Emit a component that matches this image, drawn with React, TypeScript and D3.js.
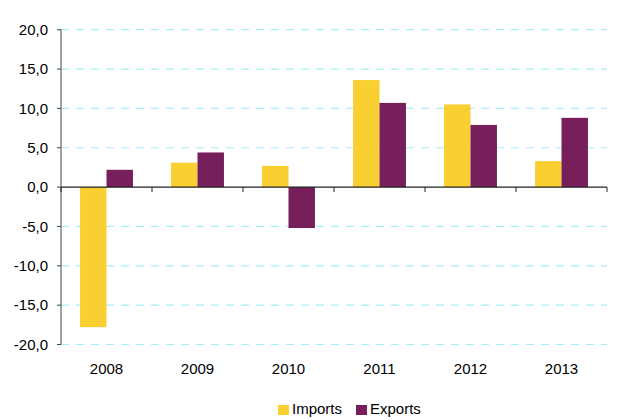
import React from "react";
import * as d3 from "d3";

const categories = ["2008", "2009", "2010", "2011", "2012", "2013"];
const imports = [-17.8, 3.1, 2.7, 13.6, 10.5, 3.3];
const exports = [2.2, 4.4, -5.2, 10.7, 7.9, 8.8];
const seriesNames = ["Imports", "Exports"];
const seriesColors = ["#F9CF31", "#771F5A"];
const yTicks = [-20, -15, -10, -5, 0, 5, 10, 15, 20];

const W = 623;
const H = 420;
const left = 61;
const right = 607;
const top = 29.7;
const bottom = 344.5;

export default function App() {
  const x = d3.scaleBand<string>().domain(categories).range([left, right]).paddingInner(0).paddingOuter(0);
  const y = d3.scaleLinear().domain([-20, 20]).range([bottom, top]);
  const inner = d3.scaleBand<string>().domain(seriesNames).range([0, x.bandwidth()]).paddingInner(0).paddingOuter(0.72);
  const data = [imports, exports];
  const fmt = (v: number) => v.toFixed(1).replace(".", ",");
  const font = "'Liberation Sans', Arial, sans-serif";

  return (
    <svg width={W} height={H} style={{ position: "absolute", left: 0, top: 0, background: "#fff" }}>
      {yTicks.filter((t) => t !== 0).map((t) => (
        <line key={"g" + t} x1={left} x2={right} y1={y(t)} y2={y(t)} stroke="#A6EEF8" strokeWidth={1.2} strokeDasharray="8,7" />
      ))}
      {data.map((vals, si) =>
        categories.map((c, i) => {
          const v = vals[i];
          const bx = (x(c) as number) + (inner(seriesNames[si]) as number);
          return (
            <rect key={si + "-" + c} x={bx} width={inner.bandwidth()} y={y(Math.max(0, v))} height={Math.abs(y(v) - y(0))} fill={seriesColors[si]} />
          );
        })
      )}
      <line x1={left} x2={left} y1={top} y2={bottom} stroke="#444" strokeWidth={1} />
      {yTicks.map((t) => (
        <g key={"t" + t}>
          <line x1={left - 4} x2={left} y1={y(t)} y2={y(t)} stroke="#444" />
          <text x={48} y={y(t)} dy="0.35em" textAnchor="end" fontFamily={font} fontSize={15} fill="#000">{fmt(t)}</text>
        </g>
      ))}
      <line x1={left} x2={right} y1={y(0)} y2={y(0)} stroke="#222" strokeWidth={1.2} />
      {d3.range(categories.length + 1).map((i) => {
        const xx = left + i * x.bandwidth();
        return <line key={"xt" + i} x1={xx} x2={xx} y1={y(0)} y2={y(0) + 5} stroke="#222" />;
      })}
      {categories.map((c) => (
        <text key={"xl" + c} x={(x(c) as number) + x.bandwidth() / 2} y={374} textAnchor="middle" fontFamily={font} fontSize={15} fill="#000">{c}</text>
      ))}
      {seriesNames.map((s, i) => {
        const lx = [278, 356][i];
        return (
          <g key={"lg" + s}>
            <rect x={lx} y={405} width={11} height={10} fill={seriesColors[i]} />
            <text x={lx + 14} y={414} fontFamily={font} fontSize={15} fill="#000">{s}</text>
          </g>
        );
      })}
    </svg>
  );
}
